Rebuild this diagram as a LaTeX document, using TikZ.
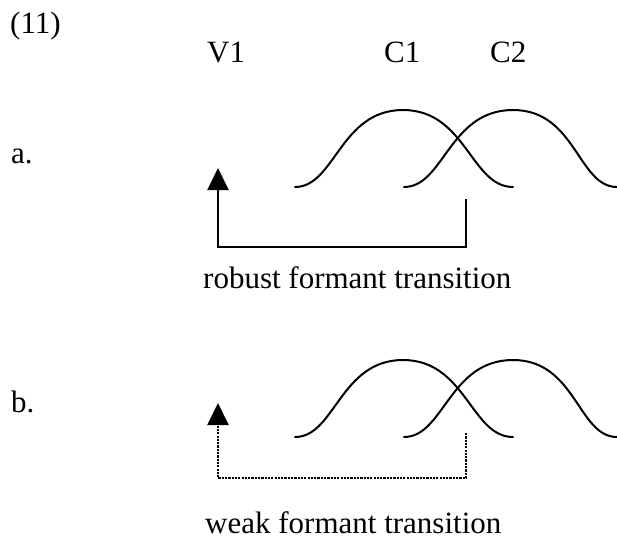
\documentclass[tikz,border=0pt]{standalone}
\usepackage{fontspec}
\setmainfont{Liberation Serif}
\usetikzlibrary{arrows.meta}
\tikzset{
  lbl/.style={anchor=base west, inner sep=0pt, font=\fontsize{31}{37}\selectfont},
  bump/.style={line width=2pt, line cap=round},
  link/.style={line width=2pt, -{Triangle[length=22pt,width=21pt]}},
  weaklink/.style={link, dash pattern=on 2.2pt off 1.1pt},
}
\begin{document}
\begin{tikzpicture}[x=1pt,y=-1pt]
\useasboundingbox (0,0) rectangle (617,539);
% labels
\node[lbl] (num) at (10,33) {(11)};
\node[lbl] (v1) at (207,62) {V1};
\node[lbl] (c1) at (384,62) {C1};
\node[lbl] (c2) at (490,62) {C2};
\node[lbl] (la) at (11,163) {a.};
\node[lbl] (lb) at (11,412) {b.};
\node[lbl] (ta) at (203,288) {robust formant transition};
\node[lbl] (tb) at (205,533) {weak formant transition};
% part a curves
\draw[bump] (295,187) .. controls (335,187) and (340,110) .. (403,110)
            .. controls (466,110) and (471,187) .. (513,187);
\draw[bump] (404,187) .. controls (444,187) and (449,110) .. (513,110)
            .. controls (576,110) and (578,187) .. (617,187);
% part a connector
\coordinate (ra) at (466,199);
\coordinate (va) at (218,168);
\draw[link] (ra) -- ++(0,48) -| (va);
% part b curves
\draw[bump] (295,437) .. controls (335,437) and (340,360) .. (403,360)
            .. controls (466,360) and (471,437) .. (513,437);
\draw[bump] (404,437) .. controls (444,437) and (449,360) .. (513,360)
            .. controls (576,360) and (578,437) .. (617,437);
% part b connector
\coordinate (rb) at (466,433);
\coordinate (vb) at (218,403);
\draw[weaklink] (rb) -- ++(0,45) -| (vb);
\end{tikzpicture}
\end{document}
